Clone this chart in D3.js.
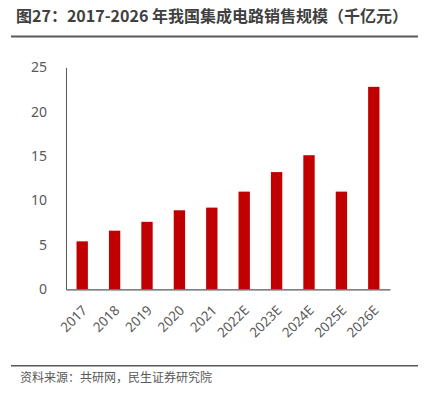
<!DOCTYPE html>
<html><head><meta charset="utf-8">
<script src="https://cdn.jsdelivr.net/npm/d3@7"></script>
<style>
body{margin:0;background:#fff;}
svg{display:block;}
</style></head>
<body>
<svg id="c" width="426" height="397"></svg>
<script>
const titleText = "图27：2017-2026 年我国集成电路销售规模（千亿元）";
const sourceText = "资料来源：共研网，民生证券研究院";
const categories = ["2017","2018","2019","2020","2021","2022E","2023E","2024E","2025E","2026E"];
const values = [5.4, 6.6, 7.6, 8.9, 9.2, 11.0, 13.2, 15.1, 11.0, 22.8];
const yTicks = [0, 5, 10, 15, 20, 25];

const svg = d3.select("#c");
const fontCJK = "'Noto Sans CJK SC', 'Noto Sans', sans-serif";
const fontNum = "'Noto Sans', 'Liberation Sans', sans-serif";

// title
svg.append("text").attr("x", 16).attr("y", 22)
  .attr("font-family", fontCJK).attr("font-weight", "bold").attr("font-size", 16)
  .attr("fill", "#404040").attr("textLength", 392).attr("lengthAdjust", "spacing")
  .text(titleText);
svg.append("line").attr("x1", 11).attr("x2", 418).attr("y1", 36.5).attr("y2", 36.5)
  .attr("stroke", "#595959").attr("stroke-width", 1.8);

const x = d3.scaleBand().domain(categories).range([66, 390]).paddingInner(0).paddingOuter(0);
const y = d3.scaleLinear().domain([0, 25]).range([289.3, 67.3]);

// bars
const bw = x.bandwidth() * 0.35;
svg.append("g").selectAll("rect").data(values).join("rect")
  .attr("x", (d, i) => x(categories[i]) + x.bandwidth() / 2 - bw / 2)
  .attr("width", bw)
  .attr("y", d => y(d))
  .attr("height", d => y(0) - y(d))
  .attr("fill", "#C00000");

// y axis
const yAxis = d3.axisLeft(y).tickValues(yTicks).tickSize(0).tickPadding(19);
const gy = svg.append("g").attr("transform", "translate(66,0)").call(yAxis);
gy.select(".domain").attr("stroke", "#595959").attr("stroke-width", 1);
gy.selectAll("text").attr("font-family", fontNum).attr("font-size", 14).attr("fill", "#595959");

// x axis
const xAxis = d3.axisBottom(x).tickSize(0).tickPadding(0);
const gx = svg.append("g").attr("transform", "translate(0,289.3)").call(xAxis);
gx.select(".domain").attr("stroke", "#595959").attr("stroke-width", 1.2);
gx.selectAll("text")
  .attr("font-family", fontNum).attr("font-size", 13.5).attr("fill", "#595959")
  .attr("text-anchor", "end")
  .attr("y", 0).attr("dy", "0.72em")
  .attr("transform", "translate(-1,15) rotate(-45)");

// footer
svg.append("line").attr("x1", 11).attr("x2", 418).attr("y1", 365.7).attr("y2", 365.7)
  .attr("stroke", "#595959").attr("stroke-width", 1.5);
svg.append("text").attr("x", 20).attr("y", 382)
  .attr("font-family", fontCJK).attr("font-size", 12)
  .attr("fill", "#595959").text(sourceText);
</script>
</body></html>
